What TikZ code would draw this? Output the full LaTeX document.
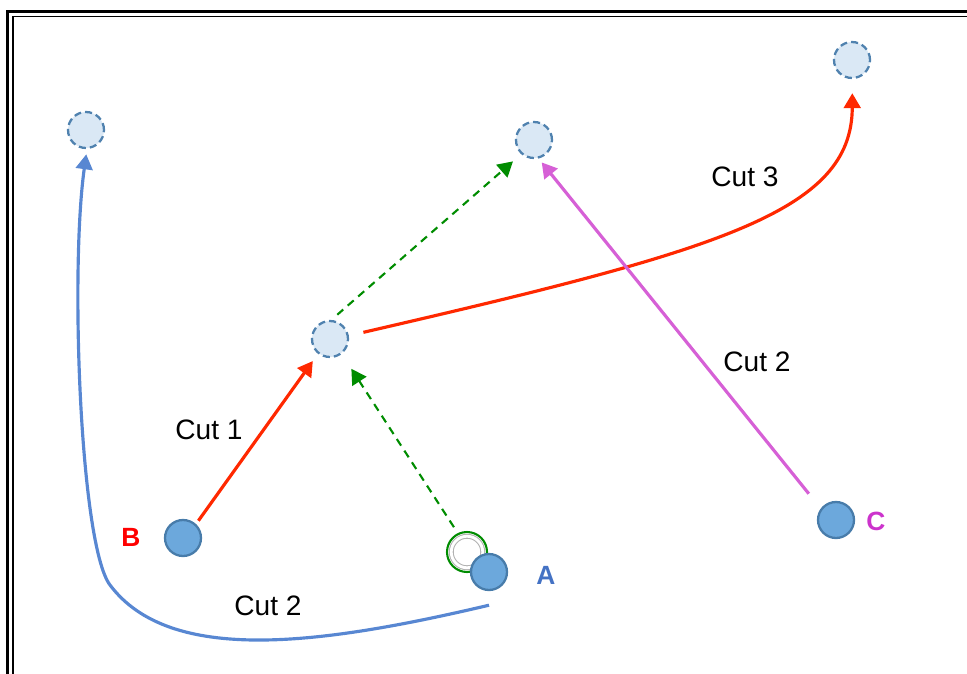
\documentclass[tikz,border=0pt]{standalone}
\usepackage{fontspec}
\setmainfont{Liberation Sans}
\usetikzlibrary{arrows.meta,positioning}

\definecolor{cutred}{RGB}{255,40,0}
\definecolor{cutblue}{RGB}{88,135,210}
\definecolor{cutpink}{RGB}{214,96,214}
\definecolor{hintgreen}{RGB}{0,140,0}
\definecolor{ghostfill}{RGB}{218,232,245}
\definecolor{ghostline}{RGB}{80,130,175}
\definecolor{agentfill}{RGB}{108,168,220}
\definecolor{agentline}{RGB}{72,124,170}
\definecolor{nameblue}{RGB}{68,114,196}
\definecolor{namepink}{RGB}{204,51,204}

\tikzset{
  ghost/.style={circle, draw=ghostline, fill=ghostfill, line width=1.3pt,
    dash pattern=on 4pt off 2.3pt, minimum size=0.72cm, inner sep=0pt},
  agent/.style={circle, draw=agentline, fill=agentfill, line width=1.3pt,
    minimum size=0.72cm, inner sep=0pt},
  cut/.style={line width=1.8pt, -{Triangle[length=8.5pt,width=9.5pt]}},
  hint/.style={hintgreen, line width=1.2pt, dash pattern=on 4.5pt off 3.4pt,
    -{Triangle[length=8.5pt,width=9.5pt]}},
  cutlabel/.style={inner sep=0pt, font=\fontsize{16}{19}\selectfont},
  agentname/.style={inner sep=0pt, font=\fontsize{15}{18}\selectfont\bfseries},
}

\begin{document}
\begin{tikzpicture}[x=0.02cm, y=-0.02cm]

  \useasboundingbox (0,0) rectangle (967,673);
  \clip (0,0) rectangle (967,673);

  % frame
  \draw [line width=1.7pt] (1000,11.3) -- (7.5,11.3) -- (7.5,700);
  \draw [line width=1.1pt] (1000,16.5) -- (13,16.5) -- (13,700);

  % old positions
  \node [ghost] (G1) at (86,130) {};
  \node [ghost] (G2) at (534,140) {};
  \node [ghost] (G3) at (852,60) {};
  \node [ghost] (G4) at (330,339) {};

  % the ring behind A
  \node [circle, draw=hintgreen, line width=1.2pt, minimum size=0.8cm,
    inner sep=0pt] (ringA) at (467,552) {};
  \node [circle, draw=gray!60, line width=0.6pt, double, double distance=1.6pt,
    minimum size=0.63cm, inner sep=0pt] at (ringA) {};

  % agents
  \node [agent] (B) at (183,538) {};
  \node [agent] (A) at (489,572) {};
  \node [agent] (C) at (836,520) {};

  \node [agentname, red] at (131,537) {B};
  \node [agentname, nameblue] at (546,575) {A};
  \node [agentname, namepink] at (876,521) {C};

  % cuts
  \draw [cut, cutred, shorten <=2.3pt, shorten >=5pt] (B.47) -- (G4.231);
  \draw [cut, cutred, shorten <=8.5pt, shorten >=8pt]
    (G4.10) .. controls (720,250) and (852,212) .. (G3.-89);
  \draw [cut, cutpink, shorten <=10.8pt, shorten >=2.8pt] (C.143) -- (G2.-76);
  \draw [cut, cutblue, shorten >=3pt]
    ([yshift=-8pt]A.south) .. controls (320,645) and (170,665) .. (110,585)
    .. controls (80,545) and (70,270) .. (G1.-87);

  % dashed hints
  \draw [hint, shorten <=4.5pt, shorten >=6.2pt] (G4.86) -- (G2.228);
  \draw [hint, shorten <=4pt, shorten >=10pt] (ringA.116) -- (G4.-52);

  \node [cutlabel] at (209,430) {Cut 1};
  \node [cutlabel] at (745,177) {Cut 3};
  \node [cutlabel] at (757,362) {Cut 2};
  \node [cutlabel] at (268,606) {Cut 2};

\end{tikzpicture}
\end{document}
